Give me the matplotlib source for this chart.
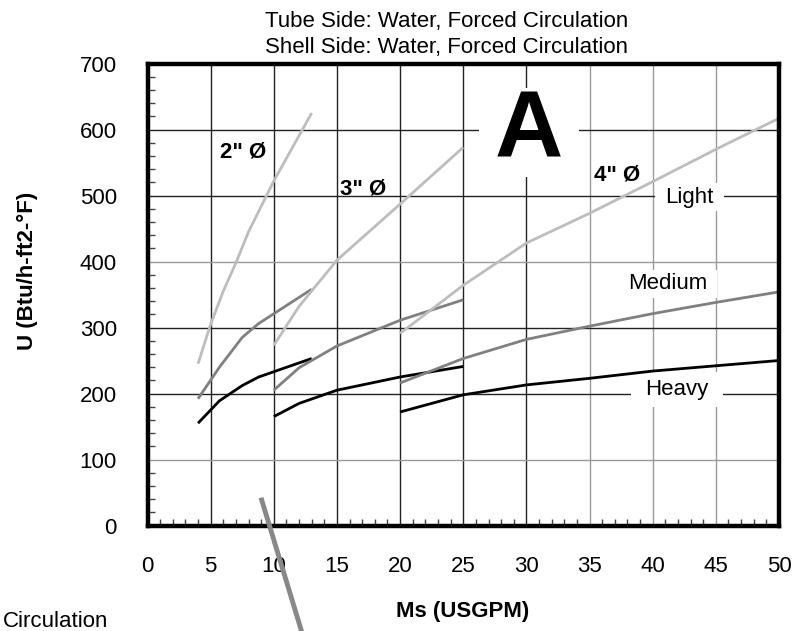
import matplotlib
matplotlib.use('Agg')
import matplotlib.pyplot as plt
from matplotlib.lines import Line2D
import numpy as np

plt.rcParams['font.family'] = ['Liberation Sans', 'DejaVu Sans']

# Datos: U (Btu/h-ft2-°F) frente a Ms (USGPM)
x_2in_light = [4, 5, 6, 7, 8, 10, 13]
u_2in_light = [245, 305, 355, 398, 445, 522, 625]
x_2in_medium = [4, 5.7, 7.5, 8.8, 13]
u_2in_medium = [192, 240, 285, 306, 358]
x_2in_heavy = [4, 5.7, 7.5, 8.8, 13]
u_2in_heavy = [155, 189, 212, 225, 253]

x_3in = [10, 12, 15, 20, 25]
u_3in_light = [273, 332, 402, 487, 573]
u_3in_medium = [205, 239, 272, 311, 342]
u_3in_heavy = [165, 185, 205, 225, 241]

x_4in = [20, 25, 30, 35, 40, 45, 50]
u_4in_light = [291, 364, 428, 473, 521, 570, 617]
u_4in_medium = [216, 253, 282, 302, 321, 338, 354]
u_4in_heavy = [172, 198, 213, 223, 234, 242, 250]

x_ticks = list(range(0, 51, 5))
y_ticks = list(range(0, 701, 100))

c_light = '#bdbdbd'
c_medium = '#808080'
c_heavy = '#000000'

fig = plt.figure(figsize=(8.04, 6.31), dpi=100)
ax = fig.add_axes([147.5 / 804, (631 - 525.5) / 631, (779 - 147.5) / 804, 462 / 631])

# Rejilla: algunas lineas en gris claro
for xv in x_ticks[1:-1]:
    ax.axvline(xv, color='#999999' if xv >= 35 else '#222222', lw=1, zorder=1)
for yv in y_ticks[1:-1]:
    ax.axhline(yv, color='#999999' if yv in (100, 400) else '#222222', lw=1, zorder=1)

lw = 2.0
for xs, ys, c in [
    (x_2in_light, u_2in_light, c_light), (x_2in_medium, u_2in_medium, c_medium),
    (x_2in_heavy, u_2in_heavy, c_heavy),
    (x_3in, u_3in_light, c_light), (x_3in, u_3in_medium, c_medium), (x_3in, u_3in_heavy, c_heavy),
    (x_4in, u_4in_light, c_light), (x_4in, u_4in_medium, c_medium), (x_4in, u_4in_heavy, c_heavy),
]:
    ax.plot(xs, ys, color=c, lw=lw, zorder=3, solid_capstyle='butt')

ax.set_xlim(0, 50)
ax.set_ylim(0, 700)
ax.set_xticks(x_ticks)
ax.set_yticks(y_ticks)
ax.set_xticks(np.arange(0, 51, 1), minor=True)
ax.set_yticks(np.arange(0, 701, 20), minor=True)
ax.tick_params(which='major', length=0, pad=22, labelsize=16)
ax.tick_params(which='minor', direction='in', length=5, width=1, color='#444444')
for s in ax.spines.values():
    s.set_linewidth(3.2)
    s.set_zorder(5)


def caja(pad, aspecto):
    return dict(boxstyle='square,pad=%g' % pad, facecolor='white', edgecolor='none',
                mutation_aspect=aspecto)


# Etiquetas dentro del grafico
ax.text(30.2, 558, 'A', fontsize=68, fontweight='bold', ha='center', va='baseline', zorder=2,
        bbox=caja(0.17, 0.01))
ax.text(7.6, 566, '2" Ø', fontsize=16, fontweight='bold', ha='center', va='center', zorder=4)
ax.text(17.1, 510, '3" Ø', fontsize=16, fontweight='bold', ha='center', va='center', zorder=4)
ax.text(37.2, 531, '4" Ø', fontsize=16, fontweight='bold', ha='center', va='center', zorder=4)
ax.text(42.9, 497, 'Light', fontsize=16, ha='center', va='center', zorder=2, bbox=caja(0.45, 0.35))
ax.text(41.2, 366, 'Medium', fontsize=16, ha='center', va='center', zorder=2, bbox=caja(0.45, 0.35))
ax.text(41.9, 206, 'Heavy', fontsize=16, ha='center', va='center', zorder=2, bbox=caja(0.65, 0.5))

# Titulos y ejes
fig.text(447 / 804, 1 - 27 / 631, 'Tube Side: Water, Forced Circulation', fontsize=16,
         ha='center', va='baseline')
fig.text(447 / 804, 1 - 53 / 631, 'Shell Side: Water, Forced Circulation', fontsize=16,
         ha='center', va='baseline')
fig.text(463 / 804, 1 - 617 / 631, 'Ms (USGPM)', fontsize=16, fontweight='bold',
         ha='center', va='baseline')
fig.text(27 / 804, 1 - 271 / 631, 'U (Btu/h-ft2-°F)', fontsize=16, fontweight='bold',
         rotation=90, ha='center', va='center')
fig.text(108 / 804, 1 - 627 / 631, 'Circulation', fontsize=16, ha='right', va='baseline')

# Linea gris diagonal (resto de otra figura)
fig.add_artist(Line2D([261.7 / 804, 303 / 804], [1 - 500 / 631, 1 - 636 / 631],
                      transform=fig.transFigure, color='#888888', lw=3.5, zorder=6))

fig.savefig('out.png', dpi=100)
